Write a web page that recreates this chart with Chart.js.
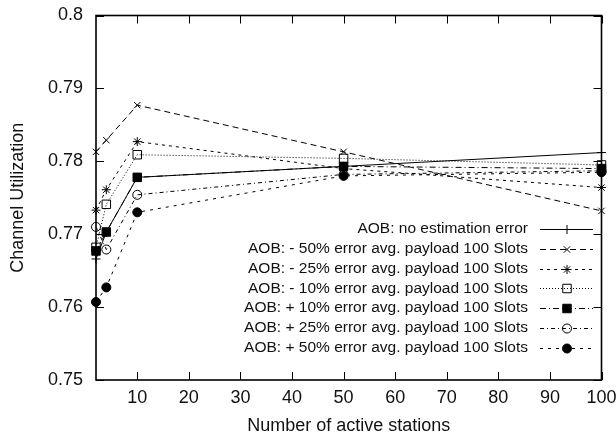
<!DOCTYPE html>
<html>
<head>
<meta charset="utf-8">
<script src="https://cdn.jsdelivr.net/npm/chart.js@4.4.1/dist/chart.umd.min.js"></script>
<style>
  html, body { margin: 0; padding: 0; background: #fff; }
  #wrap { width: 616px; height: 439px; }
</style>
</head>
<body>
<div id="wrap"><canvas id="c" width="616" height="439"></canvas></div>
<script>
// ---- data ----
const stations = [2, 4, 10, 50, 100];
const seriesLabels = [
  'AOB: no estimation error',
  'AOB: - 50% error avg. payload 100 Slots',
  'AOB: - 25% error avg. payload 100 Slots',
  'AOB: - 10% error avg. payload 100 Slots',
  'AOB: + 10% error avg. payload 100 Slots',
  'AOB: + 25% error avg. payload 100 Slots',
  'AOB: + 50% error avg. payload 100 Slots'
];
const noError   = [0.7666, 0.7703, 0.7778, 0.7793, 0.7812];
const minus50   = [0.7813, 0.7829, 0.7877, 0.7813, 0.7732];
const minus25   = [0.7733, 0.7761, 0.7827, 0.7790, 0.7764];
const minus10   = [0.7682, 0.7741, 0.7809, 0.7804, 0.7795];
const plus10    = [0.7677, 0.7703, 0.7778, 0.7793, 0.7790];
const plus25    = [0.7710, 0.7679, 0.7754, 0.7782, 0.7787];
const plus50    = [0.7607, 0.7627, 0.7730, 0.7780, 0.7785];
const xTickValues = [10, 20, 30, 40, 50, 60, 70, 80, 90, 100];
const xTickLabels = ['10', '20', '30', '40', '50', '60', '70', '80', '90', '100'];
const yTickValues = [0.75, 0.76, 0.77, 0.78, 0.79, 0.80];
const yTickLabels = ['0.75', '0.76', '0.77', '0.78', '0.79', '0.8'];
const xTitle = 'Number of active stations';
const yTitle = 'Channel Utilization';

// ---- styles ----
const FAMILY = '"Liberation Sans", Arial, Helvetica, sans-serif';
const AXIS_FONT = { family: FAMILY, size: 18 };
const KEY_FONT_SIZE = 15.5;
const TEXT = '#111';
const allValues = [noError, minus50, minus25, minus10, plus10, plus25, plus50];
const styles = [
  { dash: [],            pointStyle: 'cross',    radius: 4.5, fill: 'rgba(0,0,0,0)' },
  { dash: [6, 4],        pointStyle: 'crossRot', radius: 4.5, fill: 'rgba(0,0,0,0)' },
  { dash: [3, 4],        pointStyle: 'star',     radius: 4.5, fill: 'rgba(0,0,0,0)' },
  { dash: [1, 2],        pointStyle: 'rect',     radius: 6,   fill: 'rgba(0,0,0,0)' },
  { dash: [6, 3, 1, 3],  pointStyle: 'rect',     radius: 6,   fill: '#000' },
  { dash: [4, 3, 1, 3],  pointStyle: 'circle',   radius: 4.5, fill: 'rgba(0,0,0,0)' },
  { dash: [3, 5],        pointStyle: 'circle',   radius: 4.5, fill: '#000' }
];

const datasets = allValues.map((vals, i) => ({
  label: seriesLabels[i],
  data: stations.map((x, j) => ({ x: x, y: vals[j] })),
  borderColor: '#000',
  borderWidth: 1,
  borderDash: styles[i].dash,
  pointStyle: styles[i].pointStyle,
  pointRadius: styles[i].radius,
  pointBorderWidth: 1,
  pointBorderColor: '#000',
  pointBackgroundColor: styles[i].fill,
  tension: 0,
  fill: false,
  clip: false
}));

// frame + inward ticks (mirrored), gnuplot style
const framePlugin = {
  id: 'frame',
  afterDatasetsDraw(chart) {
    const { ctx, chartArea: a, scales } = chart;
    ctx.save();
    ctx.strokeStyle = '#000';
    ctx.setLineDash([]);
    ctx.lineWidth = 1;
    const L = 8;
    xTickValues.forEach(v => {
      const px = Math.round(scales.x.getPixelForValue(v)) + 0.5;
      ctx.beginPath();
      ctx.moveTo(px, a.bottom); ctx.lineTo(px, a.bottom - L);
      ctx.moveTo(px, a.top); ctx.lineTo(px, a.top + L);
      ctx.stroke();
    });
    yTickValues.forEach(v => {
      const py = Math.round(scales.y.getPixelForValue(v)) + 0.5;
      ctx.beginPath();
      ctx.moveTo(a.left, py); ctx.lineTo(a.left + L, py);
      ctx.moveTo(a.right, py); ctx.lineTo(a.right - L, py);
      ctx.stroke();
    });
    ctx.lineWidth = 1.6;
    ctx.strokeRect(a.left, a.top, a.right - a.left, a.bottom - a.top);
    ctx.restore();
  }
};

// gnuplot-like key: right-aligned text, then a line sample with the marker
const keyPlugin = {
  id: 'key',
  afterDatasetsDraw(chart) {
    const { ctx } = chart;
    const textRight = 528, x0 = 540, x1 = 593, xm = 567, y0 = 229, dy = 19.8;
    ctx.save();
    ctx.font = KEY_FONT_SIZE + 'px ' + FAMILY;
    ctx.textAlign = 'right';
    ctx.textBaseline = 'middle';
    chart.data.datasets.forEach((ds, i) => {
      const y = y0 + i * dy;
      ctx.fillStyle = TEXT;
      ctx.fillText(ds.label, textRight, y);
      ctx.strokeStyle = '#000';
      ctx.lineWidth = 1;
      ctx.setLineDash(ds.borderDash);
      ctx.beginPath();
      ctx.moveTo(x0, Math.round(y) + 0.5);
      ctx.lineTo(x1, Math.round(y) + 0.5);
      ctx.stroke();
      ctx.setLineDash([]);
      ctx.fillStyle = ds.pointBackgroundColor;
      ctx.strokeStyle = '#000';
      Chart.helpers.drawPoint(ctx, {
        pointStyle: ds.pointStyle, radius: ds.pointRadius, borderWidth: 1, rotation: 0
      }, xm, Math.round(y) + 0.5);
    });
    ctx.restore();
  }
};

new Chart(document.getElementById('c'), {
  type: 'line',
  data: { datasets: datasets },
  options: {
    responsive: false,
    devicePixelRatio: 1,
    animation: false,
    layout: { padding: { left: 0, right: 14.5, top: 15.5, bottom: 0 } },
    plugins: { legend: { display: false }, tooltip: { enabled: false } },
    elements: { line: { borderCapStyle: 'butt' } },
    scales: {
      x: {
        type: 'linear', min: 2, max: 100,
        afterBuildTicks: s => { s.ticks = xTickValues.map(v => ({ value: v })); },
        afterFit: s => { s.height = 59; s.paddingRight = 0; s.paddingLeft = 0; },
        grid: { display: false, drawTicks: false },
        border: { display: false },
        ticks: {
          font: AXIS_FONT, color: TEXT, padding: 7, maxRotation: 0, autoSkip: false,
          callback: (v, i) => xTickLabels[i]
        },
        title: { display: true, text: xTitle, font: AXIS_FONT, color: TEXT, padding: { top: 0, bottom: 2 } }
      },
      y: {
        type: 'linear', min: 0.75, max: 0.80,
        afterBuildTicks: s => { s.ticks = yTickValues.map(v => ({ value: v })); },
        afterFit: s => { s.width = 96; s.paddingTop = 0; s.paddingBottom = 0; },
        grid: { display: false, drawTicks: false },
        border: { display: false },
        ticks: {
          font: AXIS_FONT, color: TEXT, padding: 13, autoSkip: false,
          callback: (v, i) => yTickLabels[i]
        },
        title: { display: true, text: yTitle, font: AXIS_FONT, color: TEXT, padding: { top: 7.5, bottom: 0 } }
      }
    }
  },
  plugins: [framePlugin, keyPlugin]
});
</script>
</body>
</html>
